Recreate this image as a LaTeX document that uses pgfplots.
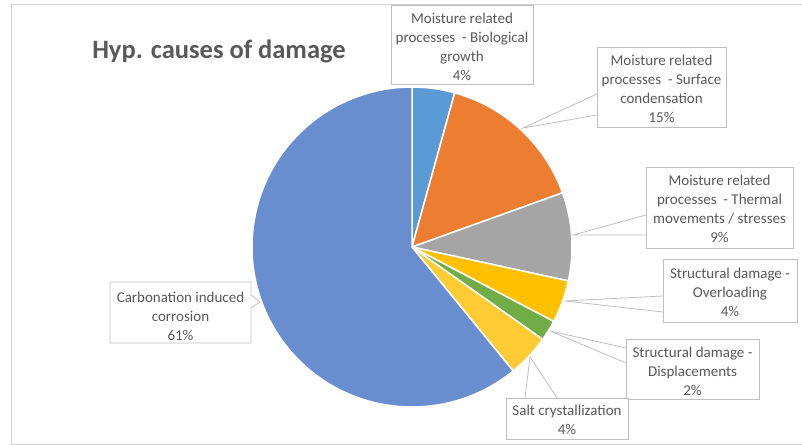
\documentclass[border=0pt]{standalone}
\usepackage{pgfplots}
\usepackage{pgfplotstable}
\pgfplotsset{compat=1.18}
\usepackage{fontspec}
\setmainfont{Carlito}

\definecolor{cBio}{HTML}{5B9BD5}
\definecolor{cSurf}{HTML}{ED7D31}
\definecolor{cTherm}{HTML}{A5A5A5}
\definecolor{cOver}{HTML}{FFC000}
\definecolor{cDisp}{HTML}{70AD47}
\definecolor{cSalt}{HTML}{FFCB33}
\definecolor{cCarb}{HTML}{698ED0}
\definecolor{txt}{HTML}{595959}
\definecolor{boxline}{HTML}{BFBFBF}

% share of each cause, in %, clockwise from 12 o'clock
\pgfplotstableread{
value col
4.3   cBio
15.2  cSurf
8.9   cTherm
4.3   cOver
2.1   cDisp
4.3   cSalt
60.9  cCarb
}\piedata

\begin{document}
\begin{tikzpicture}[
  lbl/.style={font=\fontsize{15bp}{19bp}\selectfont, text=txt, align=center, inner sep=0pt},
  bx/.style={draw=boxline, line width=0.8bp, fill=white},
  lead/.style={draw=boxline, line width=0.8bp}]
\begin{axis}[
  scale only axis, width=802bp, height=445bp,
  xmin=0, xmax=802, ymin=0, ymax=445,
  y dir=reverse, hide axis, clip=false]

% chart frame
\draw[draw=gray!35, line width=1bp] (axis cs:802,5) -- (axis cs:11,5) -- (axis cs:11,444) -- (axis cs:802,444);

% slices
\pgfplotstablegetrowsof{\piedata}
\pgfmathtruncatemacro\nrows{\pgfplotsretval-1}
\def\cum{0}
\pgfplotsforeachungrouped \i in {0,...,\nrows}{
  \pgfplotstablegetelem{\i}{value}\of\piedata \let\sv\pgfplotsretval
  \pgfplotstablegetelem{\i}{col}\of\piedata \let\scol\pgfplotsretval
  \pgfmathsetmacro\aone{90-3.6*\cum}
  \pgfmathsetmacro\atwo{90-3.6*(\cum+\sv)}
  \pgfmathsetmacro\cum{\cum+\sv}
  \edef\temp{\noexpand\filldraw[fill=\scol, draw=white, line width=1.5bp, line join=round]
    (axis cs:412,247) -- ++(\aone:160bp) arc[start angle=\aone, end angle=\atwo, radius=160bp] -- cycle;}
  \temp
}

% title
\node[anchor=base, font=\fontsize{26.5bp}{32bp}\selectfont\bfseries, text=txt] at (axis cs:219,59) {Hyp. causes of damage};

% data labels
\draw[bx] (axis cs:391,5) rectangle (axis cs:533,84);
\node[lbl] at (axis cs:462,46.5) {Moisture related\\processes\ \ - Biological\\growth\\4\%};

\draw[lead] (axis cs:597,94) -- (axis cs:523,128) -- (axis cs:597,115);
\draw[bx] (axis cs:597,47) rectangle (axis cs:726,127);
\node[lbl] at (axis cs:661.5,88.5) {Moisture related\\processes\ \ - Surface\\condensation\\15\%};

\draw[lead] (axis cs:646,215) -- (axis cs:573,235) -- (axis cs:646,235);
\draw[bx] (axis cs:646,167) rectangle (axis cs:793,248);
\node[lbl] at (axis cs:719.5,209) {Moisture related\\processes\ \ - Thermal\\movements / stresses\\9\%};

\draw[lead] (axis cs:663,296) -- (axis cs:565,301) -- (axis cs:663,312);
\draw[bx] (axis cs:663,259) rectangle (axis cs:797,322);
\node[lbl] at (axis cs:730,292) {Structural damage -\\Overloading\\4\%};

\draw[lead] (axis cs:626,348) -- (axis cs:550,331) -- (axis cs:626,363);
\draw[bx] (axis cs:626,339) rectangle (axis cs:759,399);
\node[lbl] at (axis cs:692.5,371) {Structural damage -\\Displacements\\2\%};

\draw[lead] (axis cs:525,398) -- (axis cs:530,357) -- (axis cs:557,398);
\draw[bx] (axis cs:506,398) rectangle (axis cs:628,439);
\node[lbl] at (axis cs:567,419.5) {Salt crystallization\\4\%};

\draw[bx] (axis cs:110,282) -- (axis cs:251,282) -- (axis cs:251,295) -- (axis cs:260,302)
  -- (axis cs:251,308) -- (axis cs:251,343) -- (axis cs:110,343) -- cycle;
\node[lbl] at (axis cs:180.5,316) {Carbonation induced\\corrosion\\61\%};

\end{axis}
\pgfresetboundingbox
\path (current axis.south west) rectangle (current axis.north east);
\end{tikzpicture}
\end{document}
